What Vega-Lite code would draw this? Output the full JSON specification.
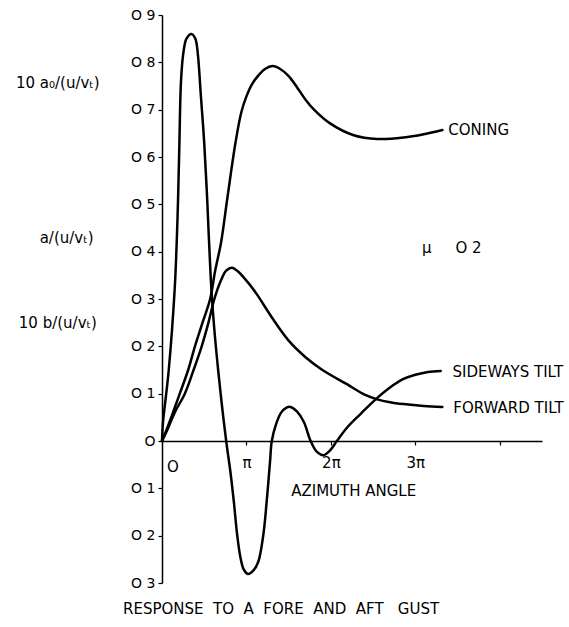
{
  "$schema": "https://vega.github.io/schema/vega-lite/v6.json",
  "autosize": "none",
  "padding": {"left": 162, "top": 15, "right": 27, "bottom": 44},
  "width": 380,
  "height": 568,
  "background": "white",
  "config": {
    "view": {"stroke": null},
    "font": "DejaVu Sans",
    "axis": {"grid": false, "domainColor": "black", "tickColor": "black", "labelColor": "black", "labelFont": "DejaVu Sans", "domainWidth": 1.5, "tickWidth": 1.2}
  },
  "datasets": {
    "curves": [
      {"series": "Sideways tilt", "x": 0, "y": 0},
      {"series": "Sideways tilt", "x": 0.012, "y": 0.04},
      {"series": "Sideways tilt", "x": 0.05, "y": 0.1},
      {"series": "Sideways tilt", "x": 0.08, "y": 0.15},
      {"series": "Sideways tilt", "x": 0.15, "y": 0.32},
      {"series": "Sideways tilt", "x": 0.175, "y": 0.424},
      {"series": "Sideways tilt", "x": 0.19, "y": 0.51},
      {"series": "Sideways tilt", "x": 0.205, "y": 0.62},
      {"series": "Sideways tilt", "x": 0.225, "y": 0.76},
      {"series": "Sideways tilt", "x": 0.253, "y": 0.82},
      {"series": "Sideways tilt", "x": 0.29, "y": 0.85},
      {"series": "Sideways tilt", "x": 0.35, "y": 0.86},
      {"series": "Sideways tilt", "x": 0.395, "y": 0.85},
      {"series": "Sideways tilt", "x": 0.423, "y": 0.82},
      {"series": "Sideways tilt", "x": 0.46, "y": 0.73},
      {"series": "Sideways tilt", "x": 0.5, "y": 0.63},
      {"series": "Sideways tilt", "x": 0.53, "y": 0.53},
      {"series": "Sideways tilt", "x": 0.555, "y": 0.43},
      {"series": "Sideways tilt", "x": 0.585, "y": 0.32},
      {"series": "Sideways tilt", "x": 0.62, "y": 0.235},
      {"series": "Sideways tilt", "x": 0.665, "y": 0.15},
      {"series": "Sideways tilt", "x": 0.71, "y": 0.075},
      {"series": "Sideways tilt", "x": 0.76, "y": 0.0},
      {"series": "Sideways tilt", "x": 0.81, "y": -0.065},
      {"series": "Sideways tilt", "x": 0.85, "y": -0.127},
      {"series": "Sideways tilt", "x": 0.89, "y": -0.198},
      {"series": "Sideways tilt", "x": 0.93, "y": -0.247},
      {"series": "Sideways tilt", "x": 0.97, "y": -0.272},
      {"series": "Sideways tilt", "x": 1.02, "y": -0.281},
      {"series": "Sideways tilt", "x": 1.08, "y": -0.274},
      {"series": "Sideways tilt", "x": 1.14, "y": -0.255},
      {"series": "Sideways tilt", "x": 1.2, "y": -0.198},
      {"series": "Sideways tilt", "x": 1.24, "y": -0.127},
      {"series": "Sideways tilt", "x": 1.28, "y": -0.042},
      {"series": "Sideways tilt", "x": 1.3, "y": 0.0},
      {"series": "Sideways tilt", "x": 1.35, "y": 0.035},
      {"series": "Sideways tilt", "x": 1.41, "y": 0.06},
      {"series": "Sideways tilt", "x": 1.47, "y": 0.07},
      {"series": "Sideways tilt", "x": 1.52, "y": 0.072},
      {"series": "Sideways tilt", "x": 1.6, "y": 0.062},
      {"series": "Sideways tilt", "x": 1.68, "y": 0.04},
      {"series": "Sideways tilt", "x": 1.76, "y": 0.0},
      {"series": "Sideways tilt", "x": 1.83, "y": -0.022},
      {"series": "Sideways tilt", "x": 1.91, "y": -0.03},
      {"series": "Sideways tilt", "x": 1.99, "y": -0.02},
      {"series": "Sideways tilt", "x": 2.07, "y": 0.0},
      {"series": "Sideways tilt", "x": 2.2, "y": 0.03},
      {"series": "Sideways tilt", "x": 2.35, "y": 0.057},
      {"series": "Sideways tilt", "x": 2.53, "y": 0.088},
      {"series": "Sideways tilt", "x": 2.7, "y": 0.113},
      {"series": "Sideways tilt", "x": 2.86, "y": 0.131},
      {"series": "Sideways tilt", "x": 3.0, "y": 0.14},
      {"series": "Sideways tilt", "x": 3.15, "y": 0.146},
      {"series": "Sideways tilt", "x": 3.3, "y": 0.148},
      {"series": "Forward tilt", "x": 0, "y": 0},
      {"series": "Forward tilt", "x": 0.06, "y": 0.022},
      {"series": "Forward tilt", "x": 0.15, "y": 0.06},
      {"series": "Forward tilt", "x": 0.27, "y": 0.1},
      {"series": "Forward tilt", "x": 0.37, "y": 0.148},
      {"series": "Forward tilt", "x": 0.47, "y": 0.2},
      {"series": "Forward tilt", "x": 0.55, "y": 0.25},
      {"series": "Forward tilt", "x": 0.62, "y": 0.3},
      {"series": "Forward tilt", "x": 0.7, "y": 0.34},
      {"series": "Forward tilt", "x": 0.76, "y": 0.36},
      {"series": "Forward tilt", "x": 0.83, "y": 0.366},
      {"series": "Forward tilt", "x": 0.9, "y": 0.358},
      {"series": "Forward tilt", "x": 0.98, "y": 0.343},
      {"series": "Forward tilt", "x": 1.1, "y": 0.316},
      {"series": "Forward tilt", "x": 1.32, "y": 0.256},
      {"series": "Forward tilt", "x": 1.5, "y": 0.212},
      {"series": "Forward tilt", "x": 1.7, "y": 0.177},
      {"series": "Forward tilt", "x": 1.9, "y": 0.15},
      {"series": "Forward tilt", "x": 2.19, "y": 0.12},
      {"series": "Forward tilt", "x": 2.4, "y": 0.098},
      {"series": "Forward tilt", "x": 2.55, "y": 0.088},
      {"series": "Forward tilt", "x": 2.7, "y": 0.082},
      {"series": "Forward tilt", "x": 2.86, "y": 0.078},
      {"series": "Forward tilt", "x": 3.1, "y": 0.074},
      {"series": "Forward tilt", "x": 3.32, "y": 0.072},
      {"series": "Coning", "x": 0, "y": 0},
      {"series": "Coning", "x": 0.05, "y": 0.022},
      {"series": "Coning", "x": 0.12, "y": 0.055},
      {"series": "Coning", "x": 0.21, "y": 0.1},
      {"series": "Coning", "x": 0.31, "y": 0.15},
      {"series": "Coning", "x": 0.39, "y": 0.2},
      {"series": "Coning", "x": 0.48, "y": 0.25},
      {"series": "Coning", "x": 0.57, "y": 0.3},
      {"series": "Coning", "x": 0.63, "y": 0.36},
      {"series": "Coning", "x": 0.7, "y": 0.42},
      {"series": "Coning", "x": 0.77, "y": 0.508},
      {"series": "Coning", "x": 0.87, "y": 0.63},
      {"series": "Coning", "x": 0.94, "y": 0.695},
      {"series": "Coning", "x": 1.0, "y": 0.728},
      {"series": "Coning", "x": 1.06, "y": 0.752},
      {"series": "Coning", "x": 1.14, "y": 0.772},
      {"series": "Coning", "x": 1.22, "y": 0.786},
      {"series": "Coning", "x": 1.31, "y": 0.792},
      {"series": "Coning", "x": 1.4, "y": 0.786},
      {"series": "Coning", "x": 1.5, "y": 0.771},
      {"series": "Coning", "x": 1.6, "y": 0.747},
      {"series": "Coning", "x": 1.7, "y": 0.721},
      {"series": "Coning", "x": 1.8, "y": 0.7},
      {"series": "Coning", "x": 1.99, "y": 0.671},
      {"series": "Coning", "x": 2.27, "y": 0.646},
      {"series": "Coning", "x": 2.55, "y": 0.638},
      {"series": "Coning", "x": 2.86, "y": 0.641},
      {"series": "Coning", "x": 3.1, "y": 0.648},
      {"series": "Coning", "x": 3.32, "y": 0.657}
    ],
    "leftLabels": [
      {"text": "CONING", "x": 3.39, "y": 0.657},
      {"text": "SIDEWAYS TILT", "x": 3.44, "y": 0.146},
      {"text": "FORWARD TILT", "x": 3.45, "y": 0.07},
      {"text": "μ\u00a0\u00a0\u00a0\u00a0\u00a0O 2", "x": 3.08, "y": 0.407}
    ],
    "centerLabels": [
      {"text": "O", "x": 0.13, "y": -0.055},
      {"text": "AZIMUTH ANGLE", "x": 2.27, "y": -0.106},
      {"text": "RESPONSE\u00a0\u00a0TO\u00a0\u00a0A\u00a0\u00a0FORE\u00a0\u00a0AND\u00a0\u00a0AFT\u00a0\u00a0\u00a0GUST", "x": 1.41, "y": -0.354},
      {"text": "10 a₀/(u/vₜ)", "x": -1.234, "y": 0.756},
      {"text": "a/(u/vₜ)", "x": -1.13, "y": 0.428},
      {"text": "10 b/(u/vₜ)", "x": -1.234, "y": 0.25}
    ]
  },
  "layer": [
    {
      "data": {"name": "curves"},
      "mark": {"type": "line", "color": "black", "strokeWidth": 2.5, "interpolate": "catmull-rom", "strokeCap": "round", "strokeJoin": "round"},
      "encoding": {
        "x": {
          "field": "x", "type": "quantitative",
          "scale": {"domain": [0, 4.5], "nice": false, "zero": false},
          "axis": {
            "orient": "bottom", "offset": -142, "title": null,
            "values": [1, 2, 3, 4], "tickSize": 4, "labelPadding": 10, "labelFontSize": 15,
            "labelExpr": "datum.value == 1 ? 'π' : (datum.value == 4 ? '' : datum.value + 'π')"
          }
        },
        "y": {
          "field": "y", "type": "quantitative",
          "scale": {"domain": [-0.3, 0.9], "nice": false, "zero": false},
          "axis": {
            "title": null, "values": [-0.3, -0.2, -0.1, 0, 0.1, 0.2, 0.3, 0.4, 0.5, 0.6, 0.7, 0.8, 0.9],
            "tickSize": 4, "labelPadding": 3, "labelFontSize": 14,
            "labelExpr": "datum.value == 0 ? 'O' : 'O ' + abs(round(datum.value * 10))"
          }
        },
        "detail": {"field": "series", "type": "nominal"}
      }
    },
    {
      "data": {"name": "leftLabels"},
      "mark": {"type": "text", "align": "left", "baseline": "middle", "fontSize": 15, "color": "black"},
      "encoding": {
        "x": {"field": "x", "type": "quantitative"},
        "y": {"field": "y", "type": "quantitative"},
        "text": {"field": "text", "type": "nominal"}
      }
    },
    {
      "data": {"name": "centerLabels"},
      "mark": {"type": "text", "align": "center", "baseline": "middle", "fontSize": 15, "color": "black"},
      "encoding": {
        "x": {"field": "x", "type": "quantitative"},
        "y": {"field": "y", "type": "quantitative"},
        "text": {"field": "text", "type": "nominal"}
      }
    }
  ]
}
